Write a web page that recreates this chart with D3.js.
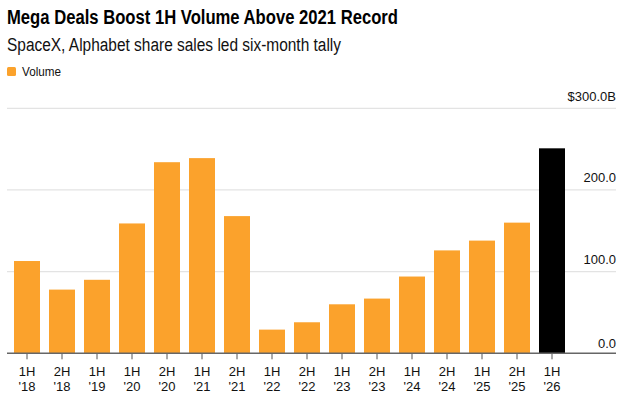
<!DOCTYPE html>
<html>
<head>
<meta charset="utf-8">
<script src="https://cdn.jsdelivr.net/npm/d3@7"></script>
<style>
  body { margin: 0; background: #fff; }
  svg { font-family: "Liberation Sans", Arial, sans-serif; }
  .tick line { stroke: #555; }
</style>
</head>
<body>
<div class="chart"></div>
<script>
// Data (billions of dollars)
var periods = ["1H '18", "2H '18", "1H '19", "1H '20", "2H '20", "1H '21", "2H '21", "1H '22",
  "2H '22", "1H '23", "2H '23", "1H '24", "2H '24", "1H '25", "2H '25", "1H '26"];
var volume = [113, 78, 90, 159, 234, 239, 168, 29, 38, 60, 67, 94, 126, 138, 160, 251];
var yTicks = [0, 100, 200, 300];

var svgWidth = 630;
var svgHeight = 408;

var svg = d3.select(".chart")
  .append("svg")
  .attr("width", svgWidth)
  .attr("height", svgHeight);

// title block
svg.append("text")
  .attr("x", 7)
  .attr("y", 24)
  .attr("font-size", "20px")
  .attr("font-weight", "bold")
  .attr("fill", "#000")
  .attr("textLength", 391)
  .attr("lengthAdjust", "spacingAndGlyphs")
  .text("Mega Deals Boost 1H Volume Above 2021 Record");

svg.append("text")
  .attr("x", 7)
  .attr("y", 51)
  .attr("font-size", "18px")
  .attr("fill", "#111")
  .attr("textLength", 334)
  .attr("lengthAdjust", "spacingAndGlyphs")
  .text("SpaceX, Alphabet share sales led six-month tally");

// legend
svg.append("rect")
  .attr("x", 7)
  .attr("y", 67)
  .attr("width", 9)
  .attr("height", 9)
  .attr("rx", 1.5)
  .attr("fill", "#fba22c");

svg.append("text")
  .attr("x", 22)
  .attr("y", 76)
  .attr("font-size", "13px")
  .attr("fill", "#111")
  .attr("textLength", 39)
  .attr("lengthAdjust", "spacingAndGlyphs")
  .text("Volume");

// scales
var xScale = d3.scaleBand()
  .domain(periods)
  .range([9.5, 569.5])
  .paddingInner(9 / 35)
  .paddingOuter(4.5 / 35);

var yScale = d3.scaleLinear()
  .domain([0, 300])
  .range([353.3, 108.3]);

var left = 7;
var right = 616;

// gridlines
svg.append("g")
  .selectAll("line")
  .data(yTicks.filter(function (d) { return d > 0; }))
  .enter()
  .append("line")
  .attr("x1", left)
  .attr("x2", right)
  .attr("y1", function (d) { return yScale(d); })
  .attr("y2", function (d) { return yScale(d); })
  .attr("stroke", "#e3e3e3")
  .attr("stroke-width", 1.2);

// y labels sit above the gridlines on the right
svg.append("g")
  .selectAll("text")
  .data(yTicks)
  .enter()
  .append("text")
  .attr("x", right)
  .attr("y", function (d) { return yScale(d) - (d === 0 ? 5.5 : 7.5); })
  .attr("text-anchor", "end")
  .attr("font-size", "13px")
  .attr("fill", "#111")
  .text(function (d) {
    return d === 300 ? "$" + d3.format(".1f")(d) + "B" : d3.format(".1f")(d);
  });

// bars
svg.append("g")
  .selectAll("rect")
  .data(volume)
  .enter()
  .append("rect")
  .attr("x", function (d, i) { return xScale(periods[i]); })
  .attr("y", function (d) { return yScale(d); })
  .attr("width", xScale.bandwidth())
  .attr("height", function (d) { return yScale(0) - yScale(d); })
  .attr("fill", function (d, i) { return i === volume.length - 1 ? "#000" : "#fba22c"; });

// x axis
var xAxis = d3.axisBottom(xScale).tickSize(6).tickSizeOuter(0).tickFormat("");

var xg = svg.append("g")
  .attr("transform", "translate(0," + yScale(0) + ")")
  .call(xAxis);

xg.select(".domain").remove();

xg.selectAll(".tick")
  .append("text")
  .attr("fill", "#111")
  .attr("font-size", "13px")
  .attr("text-anchor", "middle")
  .each(function (d) {
    var parts = d.split(" ");
    var t = d3.select(this);
    t.append("tspan").attr("x", 0).attr("y", 23).text(parts[0]);
    t.append("tspan").attr("x", 0).attr("y", 38).text(parts[1]);
  });

// baseline
svg.append("line")
  .attr("x1", left)
  .attr("x2", right)
  .attr("y1", yScale(0))
  .attr("y2", yScale(0))
  .attr("stroke", "#666")
  .attr("stroke-width", 1.5);
</script>
</body>
</html>
